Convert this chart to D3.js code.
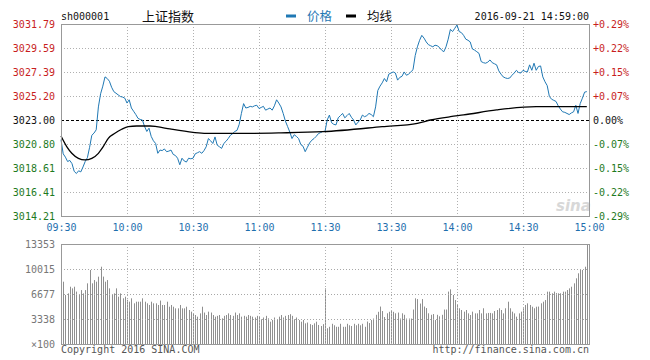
<!DOCTYPE html>
<html><head><meta charset="utf-8">
<script src="https://cdn.jsdelivr.net/npm/d3@7/dist/d3.min.js"></script>
<style>body{margin:0;background:#fff;} svg{display:block}</style>
</head><body><svg id="c" width="650" height="360"></svg>
<script>
// ---------- data ----------
const symbol = "sh000001";
const title = "上证指数";
const legendNames = ["价格", "均线"];
const stamp = "2016-09-21 14:59:00";
const prevClose = 3023.00;
const priceTicks = [3031.79, 3029.59, 3027.39, 3025.20, 3023.00, 3020.80, 3018.61, 3016.41, 3014.21];
const pctLabels = ["+0.29%", "+0.22%", "+0.15%", "+0.07%", "0.00%", "-0.07%", "-0.15%", "-0.22%", "-0.29%"];
const timeTicks = [0, 30, 60, 90, 120, 150, 180, 210, 240];
const timeLabels = ["09:30", "10:00", "10:30", "11:00", "11:30", "13:30", "14:00", "14:30", "15:00"];
const volTicks = [13353, 10015, 6677, 3338, 0];
const volLabels = ["13353", "10015", "6677", "3338", "×100"];

// price per minute (index 0 = 09:30 ... 239 = 14:59)
const price = [
3021.20,3019.90,3019.60,3019.20,3019.30,3019.00,3018.30,3018.10,3018.35,3018.25,
3018.70,3019.20,3019.55,3020.50,3021.60,3021.80,3022.10,3024.20,3025.40,3026.10,
3026.95,3026.80,3026.55,3026.00,3025.60,3025.45,3025.30,3025.15,3025.10,3025.00,
3024.55,3024.85,3024.10,3023.80,3023.50,3023.15,3023.05,3023.00,3022.40,3021.95,
3022.25,3021.50,3021.10,3020.85,3019.95,3020.25,3020.20,3020.35,3020.10,3020.15,
3020.25,3019.85,3019.75,3019.50,3018.90,3019.50,3019.25,3019.15,3019.50,3019.45,
3019.50,3019.90,3020.00,3020.10,3019.95,3020.20,3020.55,3021.30,3021.10,3020.85,
3021.45,3020.70,3020.55,3020.40,3020.85,3021.05,3021.30,3021.60,3021.75,3021.95,
3022.05,3022.60,3023.60,3024.50,3024.10,3024.15,3024.25,3024.20,3024.30,3024.35,
3024.05,3024.15,3024.25,3023.90,3024.00,3024.10,3023.90,3024.30,3024.85,3024.55,
3024.20,3023.60,3022.90,3022.40,3021.90,3021.30,3021.65,3021.50,3021.30,3020.75,
3020.60,3020.10,3020.50,3020.90,3021.15,3021.30,3021.50,3021.75,3021.85,3021.95,
3021.95,3023.00,3023.45,3022.75,3022.60,3022.55,3023.20,3023.40,3023.60,3023.20,
3023.40,3023.60,3023.25,3023.00,3022.55,3022.80,3023.00,3023.45,3023.30,3023.40,
3023.60,3023.50,3023.30,3024.20,3025.70,3026.10,3026.40,3026.80,3026.50,3027.20,
3027.30,3027.40,3027.30,3026.65,3026.90,3027.00,3027.40,3027.10,3027.20,3027.40,
3027.60,3028.90,3029.70,3030.30,3030.75,3030.50,3030.15,3029.90,3029.80,3029.70,
3029.85,3029.80,3029.65,3029.40,3029.25,3029.70,3030.40,3031.30,3031.10,3031.40,
3031.70,3031.10,3031.00,3030.75,3030.40,3030.30,3030.15,3029.50,3029.40,3029.25,
3029.10,3028.35,3028.25,3028.20,3028.30,3028.50,3028.25,3028.15,3028.05,3027.50,
3027.20,3026.95,3026.85,3026.80,3026.85,3027.10,3027.30,3027.55,3027.35,3027.30,
3027.55,3027.45,3027.40,3028.05,3027.55,3028.20,3027.55,3027.90,3027.95,3026.95,
3026.50,3026.15,3025.15,3024.90,3024.80,3024.70,3024.30,3024.00,3023.75,3023.70,
3023.60,3023.50,3023.65,3023.75,3024.35,3023.60,3024.50,3025.00,3025.55,3025.60
];

// average line, read at these minutes
const avgMinutes = [0, 2.6, 4.9, 7.9, 10.9, 14, 17, 19.2, 21.5, 24.5, 27.6, 30.6, 34.4, 40.5, 43.5, 49.5, 60, 66, 86, 100, 119, 146, 162, 168, 177, 183, 198, 216, 239];
const avgValues  = [3021.53, 3020.56, 3019.95, 3019.49, 3019.34, 3019.49, 3019.95, 3020.56, 3021.32, 3021.78, 3022.15, 3022.39, 3022.45, 3022.45, 3022.39, 3022.18, 3021.87, 3021.78, 3021.78, 3021.82, 3021.93, 3022.39, 3022.70, 3023.00, 3023.30, 3023.46, 3023.92, 3024.22, 3024.22];

// volume per minute (x100 shares)
const volume = [
11660,8320,6540,6760,7650,7430,7650,7000,6540,7200,
6760,7200,8100,9880,8100,8540,8320,8990,10320,9000,
8320,8540,7430,6540,6760,7430,6320,6760,6100,6320,
5900,5650,6100,5430,5650,5650,5650,6100,5650,5430,
5210,5650,5430,5430,5210,5800,5210,5210,5650,4980,
5210,4980,4760,4760,5210,4760,4760,4980,4540,4320,
4100,3870,3650,4090,4980,4200,3870,4320,4200,3870,
3650,3760,3870,3430,3760,3870,4090,3870,3760,4200,
3870,4090,3650,3760,3650,3870,3760,3650,3540,3760,
3650,3300,3540,3760,3430,2980,3200,3540,3300,3650,
3870,3540,3760,3870,3980,3760,3300,3540,3200,2980,
3200,2760,2870,2650,2540,2760,2980,2540,2400,2650,
7430,2100,2300,2700,2500,2300,2300,2700,2300,2300,
2700,2500,2400,2700,2500,2700,2500,2700,2300,3000,
2800,3200,3400,3900,4300,5000,4400,3600,4100,4300,
4500,4300,4100,4200,3400,4100,3900,3400,3400,3400,
4600,6100,6000,5400,6000,5000,4800,4100,3900,4000,
3200,3900,3700,3900,4600,4600,7000,7300,6540,5870,
5210,4770,4540,4320,4540,4090,3870,4320,4090,4090,
4540,4090,4770,4090,4150,4150,4090,4400,4540,4770,
4540,4090,4770,5650,4770,4320,4090,3650,4090,4320,
4770,5210,5430,5210,4980,4770,4980,5000,5430,5650,
5870,6990,6990,6770,6990,6800,6770,6770,6990,6990,
7210,7430,7650,8100,8770,9440,9880,9880,10320,13220
];

// ---------- drawing ----------
const svg = d3.select("#c");
const L = 61, R = 589, T = 24, B = 216, VT = 244, VB = 344;
const mono = "'DejaVu Sans Mono', monospace";
const cjk = "'Noto Sans CJK SC', sans-serif";
const RED = "#c81e1e", GREEN = "#1e7a1e", BLUE = "#1f78b4", TBLUE = "#1f6fae";

const x = d3.scaleLinear().domain([0, 240]).range([L, R]);
const y = d3.scaleLinear().domain([priceTicks[8], priceTicks[0]]).range([B, T]);
const yp = d3.scaleLinear().domain([0, 8]).range([T, B]);
const yv = d3.scaleLinear().domain([0, volTicks[0]]).range([VB, VT]);

const crisp = v => Math.round(v) + 0.5;

// header
svg.append("text").attr("x", L).attr("y", 20).attr("font-family", mono).attr("font-size", 10).attr("fill", "#111").text(symbol);
svg.append("text").attr("x", 142).attr("y", 21).attr("font-family", cjk).attr("font-size", 13).attr("fill", "#111").text(title);
svg.append("rect").attr("x", 286).attr("y", 14.5).attr("width", 10).attr("height", 3).attr("fill", BLUE);
svg.append("text").attr("x", 307).attr("y", 21).attr("font-family", cjk).attr("font-size", 12.5).attr("fill", BLUE).text(legendNames[0]);
svg.append("rect").attr("x", 346).attr("y", 14.5).attr("width", 10).attr("height", 3).attr("fill", "#000");
svg.append("text").attr("x", 367).attr("y", 21).attr("font-family", cjk).attr("font-size", 12.5).attr("fill", "#111").text(legendNames[1]);
svg.append("text").attr("x", R).attr("y", 20).attr("text-anchor", "end").attr("font-family", mono).attr("font-size", 10).attr("fill", "#111").text(stamp);

// main grid
const g = svg.append("g");
priceTicks.forEach((p, i) => {
  if (i === 0 || i === 8) return;
  const yy = crisp(y(p));
  g.append("line").attr("x1", L).attr("x2", R).attr("y1", yy).attr("y2", yy)
    .attr("stroke", p === prevClose ? "#000" : "#b0b0b0")
    .attr("stroke-dasharray", p === prevClose ? "3,2" : "1,2");
});
timeTicks.forEach((t, i) => {
  if (i === 0 || i === timeTicks.length - 1) return;
  const xx = crisp(x(t));
  g.append("line").attr("x1", xx).attr("x2", xx).attr("y1", T).attr("y2", B).attr("stroke", "#b0b0b0").attr("stroke-dasharray", "1,2");
});

// sina watermark
svg.append("text").attr("x", 556).attr("y", 211).attr("font-family", "'DejaVu Sans', sans-serif").attr("font-style", "italic").attr("font-weight", "bold")
  .attr("font-size", 15).attr("fill", "#d8d8d8").text("sina");

// lines
const priceLine = d3.line().x((d, i) => x(i)).y(d => y(d));
svg.append("path").datum(price).attr("d", priceLine).attr("fill", "none").attr("stroke", BLUE).attr("stroke-width", 1);
const avgLine = d3.line().x((d, i) => x(avgMinutes[i])).y(d => y(d)).curve(d3.curveMonotoneX);
svg.append("path").datum(avgValues).attr("d", avgLine).attr("fill", "none").attr("stroke", "#000").attr("stroke-width", 1.3);

// main border
svg.append("rect").attr("x", L + 0.5).attr("y", T + 0.5).attr("width", R - L).attr("height", B - T)
  .attr("fill", "none").attr("stroke", "#999");

// left price axis
const leftAx = svg.append("g").attr("transform", `translate(${L},0)`)
  .call(d3.axisLeft(y).tickValues(priceTicks).tickFormat(d => d.toFixed(2)).tickSize(0).tickPadding(6));
leftAx.select(".domain").remove();
leftAx.selectAll("text").attr("font-family", mono).attr("font-size", 10)
  .attr("fill", d => d > prevClose ? RED : (d < prevClose ? GREEN : "#111"));

// right percent axis
const rightAx = svg.append("g").attr("transform", `translate(${R},0)`)
  .call(d3.axisRight(yp).tickValues(d3.range(9)).tickFormat(i => pctLabels[i]).tickSize(0).tickPadding(4));
rightAx.select(".domain").remove();
rightAx.selectAll("text").attr("font-family", mono).attr("font-size", 10)
  .attr("fill", i => i < 4 ? RED : (i > 4 ? GREEN : "#111"));

// time axis
const timeAx = svg.append("g").attr("transform", `translate(0,${B})`)
  .call(d3.axisBottom(x).tickValues(timeTicks).tickFormat((d, i) => timeLabels[i]).tickSize(0).tickPadding(8));
timeAx.select(".domain").remove();
timeAx.selectAll("text").attr("font-family", mono).attr("font-size", 10).attr("fill", TBLUE);

// volume bars
svg.append("g").selectAll("rect").data(volume).join("rect")
  .attr("x", (d, i) => Math.round(x(i))).attr("width", 1)
  .attr("y", d => yv(d)).attr("height", d => VB - yv(d))
  .attr("fill", "#8f8f8f");

// volume grid (drawn over bars)
volTicks.slice(1, 4).forEach(v => {
  const yy = crisp(yv(v));
  svg.append("line").attr("x1", L).attr("x2", R).attr("y1", yy).attr("y2", yy).attr("stroke", "#a8a8a8").attr("stroke-dasharray", "1,2");
});
timeTicks.forEach((t, i) => {
  if (i === 0 || i === timeTicks.length - 1) return;
  const xx = crisp(x(t));
  svg.append("line").attr("x1", xx).attr("x2", xx).attr("y1", VT).attr("y2", VB).attr("stroke", "#b0b0b0").attr("stroke-dasharray", "1,2");
});
svg.append("rect").attr("x", L + 0.5).attr("y", VT + 0.5).attr("width", R - L).attr("height", VB - VT)
  .attr("fill", "none").attr("stroke", "#999");

// volume axis
const volAx = svg.append("g").attr("transform", `translate(${L},0)`)
  .call(d3.axisLeft(yv).tickValues(volTicks).tickFormat((d, i) => volLabels[i]).tickSize(0).tickPadding(6));
volAx.select(".domain").remove();
volAx.selectAll("text").attr("font-family", mono).attr("font-size", 10).attr("fill", "#777");

// footer
svg.append("text").attr("x", L).attr("y", 353).attr("font-family", mono).attr("font-size", 10).attr("fill", "#555").text("Copyright 2016 SINA.COM");
svg.append("text").attr("x", R).attr("y", 353).attr("text-anchor", "end").attr("font-family", mono).attr("font-size", 10).attr("fill", "#555").text("http://finance.sina.com.cn");
</script>
</body></html>
